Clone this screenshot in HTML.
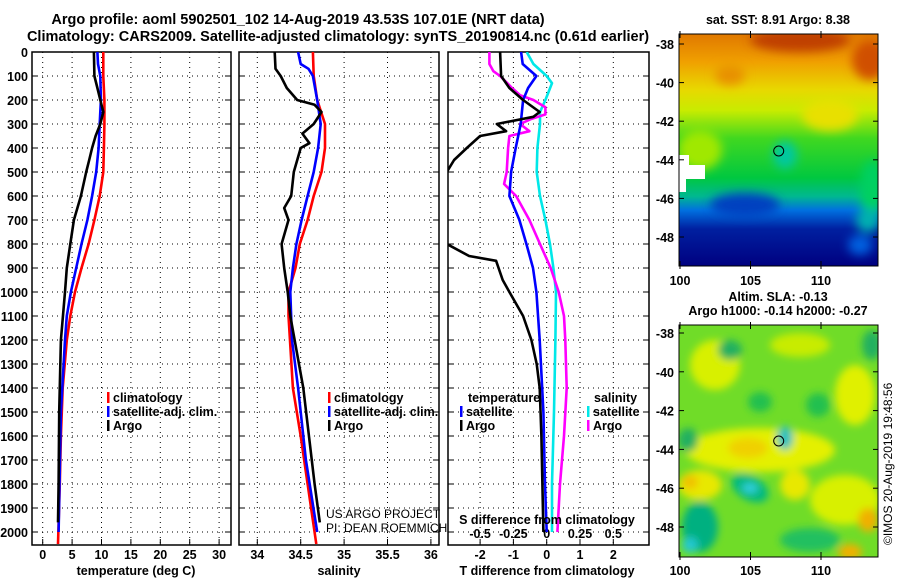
<!DOCTYPE html>
<html><head><meta charset="utf-8"><style>
html,body{margin:0;padding:0;background:#fff;}
svg{display:block;font-family:"Liberation Sans",sans-serif;}
.b{font-weight:bold;font-size:14.5px;}
.t{font-weight:bold;font-size:12.5px;}
</style></head><body>
<svg id="c" width="900" height="580" viewBox="0 0 900 580">
<defs>
<filter id="bl" filterUnits="userSpaceOnUse" x="600" y="0" width="300" height="580"><feGaussianBlur stdDeviation="5"/></filter>
<filter id="bl2" filterUnits="userSpaceOnUse" x="600" y="280" width="300" height="300"><feGaussianBlur stdDeviation="4"/></filter>
<clipPath id="cm1"><rect x="679" y="34" width="199" height="232"/></clipPath>
<clipPath id="cm2"><rect x="679" y="325" width="199" height="232"/></clipPath>
<clipPath id="cp1"><rect x="32" y="52" width="199" height="493"/></clipPath>
<clipPath id="cp2"><rect x="239" y="52" width="200" height="493"/></clipPath>
<clipPath id="cp3"><rect x="448" y="52" width="201" height="493"/></clipPath>
<linearGradient id="sstg" x1="0" y1="0" x2="0" y2="1">
<stop offset="0" stop-color="#e07800"/><stop offset="0.12" stop-color="#f0a000"/>
<stop offset="0.24" stop-color="#e8d800"/><stop offset="0.33" stop-color="#c8ec00"/>
<stop offset="0.45" stop-color="#40d820"/><stop offset="0.62" stop-color="#00c840"/>
<stop offset="0.7" stop-color="#00b890"/><stop offset="0.76" stop-color="#0070e0"/>
<stop offset="0.84" stop-color="#0020a0"/><stop offset="1" stop-color="#000080"/>
</linearGradient>
</defs>
<rect width="900" height="580" fill="#fff"/>
<text class="b" x="298" y="24" text-anchor="middle">Argo profile: aoml 5902501_102 14-Aug-2019 43.53S 107.01E (NRT data)</text>
<text class="b" x="338" y="41" text-anchor="middle">Climatology: CARS2009. Satellite-adjusted climatology: synTS_20190814.nc (0.61d earlier)</text>

<!-- SST map -->
<g clip-path="url(#cm1)">
<rect x="679" y="34" width="199" height="232" fill="url(#sstg)"/>
<g filter="url(#bl)">
<ellipse cx="800" cy="40" rx="50" ry="12" fill="#c04000"/>
<ellipse cx="870" cy="60" rx="18" ry="20" fill="#d05000"/>
<ellipse cx="730" cy="75" rx="15" ry="10" fill="#e89000"/>
<ellipse cx="830" cy="115" rx="28" ry="16" fill="#e8e000"/>
<ellipse cx="700" cy="150" rx="22" ry="20" fill="#a0e800"/>
<ellipse cx="785" cy="155" rx="12" ry="14" fill="#00c8a0"/>
<ellipse cx="745" cy="205" rx="35" ry="12" fill="#0040c0"/>
<ellipse cx="872" cy="190" rx="12" ry="30" fill="#00d060"/>
<ellipse cx="868" cy="220" rx="12" ry="12" fill="#00b0b0"/>
<ellipse cx="860" cy="245" rx="12" ry="10" fill="#0060e0"/>
</g>
<rect x="679" y="155" width="10" height="12" fill="#fff"/>
<rect x="679" y="165" width="26" height="14" fill="#fff"/>
<rect x="679" y="178" width="7" height="14" fill="#fff"/>
</g>
<rect x="679" y="34" width="199" height="232" fill="none" stroke="#000" stroke-width="1"/>
<circle cx="778.7" cy="151" r="5" fill="none" stroke="#000"/>
<text class="t" x="778" y="24" text-anchor="middle">sat. SST: 8.91 Argo: 8.38</text>

<!-- SLA map -->
<g clip-path="url(#cm2)">
<rect x="679" y="325" width="199" height="232" fill="#70dc28"/>
<g filter="url(#bl2)">
<ellipse cx="715" cy="365" rx="25" ry="25" fill="#d8f000"/>
<ellipse cx="800" cy="345" rx="30" ry="12" fill="#c8ec00"/>
<ellipse cx="855" cy="395" rx="20" ry="30" fill="#e0f000"/>
<ellipse cx="760" cy="450" rx="75" ry="22" fill="#e4f000"/>
<ellipse cx="748" cy="448" rx="20" ry="10" fill="#f0d000"/>
<ellipse cx="700" cy="485" rx="22" ry="15" fill="#e8e800"/>
<ellipse cx="690" cy="482" rx="8" ry="7" fill="#f0c000"/>
<ellipse cx="795" cy="485" rx="15" ry="15" fill="#e8e800"/>
<ellipse cx="845" cy="500" rx="35" ry="25" fill="#d8f000"/>
<ellipse cx="868" cy="520" rx="10" ry="12" fill="#f0b000"/>
<ellipse cx="850" cy="552" rx="12" ry="8" fill="#f0b000"/>
<ellipse cx="750" cy="488" rx="20" ry="12" fill="#00b880" transform="rotate(30 750 488)"/>
<ellipse cx="750" cy="488" rx="8" ry="5" fill="#30d0e0"/>
<ellipse cx="785" cy="438" rx="8" ry="12" fill="#20c0c0"/>
<ellipse cx="700" cy="527" rx="18" ry="25" fill="#00b080"/>
<ellipse cx="690" cy="545" rx="8" ry="8" fill="#20c8d0"/>
<ellipse cx="760" cy="402" rx="12" ry="10" fill="#20c050"/>
<ellipse cx="818" cy="405" rx="12" ry="12" fill="#20c050"/>
<ellipse cx="810" cy="540" rx="30" ry="12" fill="#20c060"/>
<ellipse cx="688" cy="440" rx="10" ry="12" fill="#20b060"/>
<ellipse cx="730" cy="350" rx="12" ry="10" fill="#20b060"/>
<ellipse cx="872" cy="345" rx="10" ry="15" fill="#20b060"/>
</g>
</g>
<rect x="679" y="325" width="199" height="232" fill="none" stroke="#000" stroke-width="1"/>
<circle cx="778.7" cy="441" r="5" fill="none" stroke="#000"/>
<text class="t" x="778" y="301" text-anchor="middle">Altim. SLA: -0.13</text>
<text class="t" x="778" y="315" text-anchor="middle">Argo h1000: -0.14 h2000: -0.27</text>
<text x="892" y="545" font-size="12" transform="rotate(-90 892 545)">©IMOS 20-Aug-2019 19:48:56</text>

<g id="plots"></g>
</svg>
<script>
// ---- data ----
const depthTicks = [0,100,200,300,400,500,600,700,800,900,1000,1100,1200,1300,1400,1500,1600,1700,1800,1900,2000];
const tempTicks = [0,5,10,15,20,25,30];
const salTicks = [34,34.5,35,35.5,36];
const salTickLabels = ["34","34.5","35","35.5","36"];
const tdiffTicks = [-2,-1,0,1,2];
const sdiffTicks = [-0.5,-0.25,0,0.25,0.5];
const sdiffTickLabels = ["-0.5","-0.25","0","0.25","0.5"];

const argoTDepth = [0,100,150,200,250,300,350,400,450,500,600,700,800,900,1000,1200,1500,1800,1960];
const argoT = [8.7,8.8,9.3,9.8,10.3,9.8,9.0,8.4,7.9,7.4,6.5,5.3,4.7,4.1,3.8,3.1,2.8,2.7,2.6];
const climTDepth = [0,100,200,300,400,500,600,700,800,900,1000,1100,1200,1400,1600,1800,2050];
const climT = [10.3,10.3,10.5,10.5,10.4,10.3,9.7,8.8,7.8,6.6,5.5,4.7,4.1,3.4,3.1,2.9,2.6];
const satTDepth = [0,50,100,200,300,400,500,600,700,800,900,1000,1100,1200,1500,2000];
const satT = [9.3,9.4,9.8,9.9,9.7,9.5,9.1,8.4,7.6,6.6,5.7,4.8,4.1,3.8,3.1,2.7];

const argoSDepth = [0,70,100,150,200,220,250,300,340,380,400,500,600,650,700,800,900,1000,1100,1400,1800,1960];
const argoS = [34.2,34.21,34.27,34.34,34.46,34.66,34.74,34.65,34.52,34.6,34.5,34.42,34.39,34.31,34.36,34.28,34.31,34.35,34.38,34.53,34.66,34.72];
const climSDepth = [0,100,200,300,400,500,600,700,800,900,1000,1100,1400,1600,1800,2050];
const climS = [34.64,34.65,34.69,34.78,34.78,34.74,34.65,34.58,34.49,34.44,34.36,34.36,34.41,34.5,34.58,34.68];
const satSDepth = [0,50,70,100,200,300,400,500,600,700,800,900,1000,1200,1400,1700,2000];
const satS = [34.47,34.5,34.59,34.64,34.69,34.73,34.7,34.65,34.58,34.51,34.45,34.41,34.38,34.4,34.47,34.56,34.69];

const argoTdDepth = [0,100,150,200,250,270,300,330,350,400,450,500,550,800,850,870,950,1000,1100,1200,1300,1400,1600,2000];
const argoTd = [-1.4,-1.37,-1.12,-0.71,-0.21,-0.4,-1.5,-1.22,-2.0,-2.4,-2.78,-3.0,-3.2,-3.0,-2.33,-1.52,-1.32,-1.12,-0.71,-0.46,-0.3,-0.21,-0.16,-0.1];
const satTdDepth = [0,50,100,150,200,300,400,500,600,700,800,900,1000,1200,1500,1800,2000];
const satTd = [-0.77,-0.72,-0.31,-0.56,-0.71,-0.78,-0.93,-1.07,-1.12,-0.82,-0.61,-0.41,-0.31,-0.21,-0.1,-0.05,0];
const argoSdDepth = [0,50,80,100,150,180,200,230,260,280,300,330,350,400,500,550,600,700,800,900,1000,1100,1200,1400,1600,1800,2000];
const argoSd = [-0.43,-0.43,-0.4,-0.35,-0.26,-0.2,-0.1,-0.01,-0.01,-0.12,-0.2,-0.13,-0.28,-0.29,-0.3,-0.32,-0.23,-0.13,-0.05,0.03,0.09,0.13,0.14,0.15,0.13,0.1,0.08];
const satSdDepth = [0,50,100,130,200,250,300,400,500,600,700,800,900,1000,1200,1500,1800,2000];
const satSd = [-0.15,-0.1,0,0.04,-0.01,-0.05,-0.05,-0.07,-0.075,-0.05,-0.01,0.025,0.05,0.07,0.065,0.055,0.04,0.04];

// ---- drawing ----
const NS = "http://www.w3.org/2000/svg";
const root = document.getElementById('plots');
function el(tag, attrs, parent, text){
  const e = document.createElementNS(NS, tag);
  for (const k in attrs) e.setAttribute(k, attrs[k]);
  if (text !== undefined) e.textContent = text;
  (parent||root).appendChild(e);
  return e;
}
const Y0 = 52, Y1 = 545;
const yScale = d => Y0 + d * 0.24;
const xTemp = t => 42.7 + t * 5.88;
const xSal = s => 257.3 + (s - 34) * 86.8;
const xTd = t => 546.7 + t * 33.3;
const xSd = s => 546.7 + s * 133.2;

const panels = [
  {x0:32, x1:231, name:'temperature-panel'},
  {x0:239, x1:439, name:'salinity-panel'},
  {x0:448, x1:649, name:'difference-panel'}
];
panels.forEach((p, i) => {
  const g = el('g', {});
  
  
  depthTicks.forEach(d => {
    const y = yScale(d);
    const ln = el('line', {x1:p.x0, x2:p.x1, y1:y, y2:y, stroke:'#000', 'stroke-width':1, 'stroke-dasharray':'1,4'}, g);
    
    
    el('line', {x1:p.x0, x2:p.x0+6, y1:y, y2:y, stroke:'#000'}, g);
    el('line', {x1:p.x1-6, x2:p.x1, y1:y, y2:y, stroke:'#000'}, g);
    if (i === 0) {
      const tx = el('text', {x:28, y:y+5, 'text-anchor':'end', class:'t'}, g, String(d));
      
      
    }
  });
  el('rect', {x:p.x0, y:Y0, width:p.x1-p.x0, height:Y1-Y0, fill:'none', stroke:'#000', 'stroke-width':1.5}, g);
});
function vgrid(vals, fx, labels, gname, ylab){
  const g = el('g', {});
  
  
  vals.forEach((v, k) => {
    const x = fx(v);
    el('line', {x1:x, x2:x, y1:Y0, y2:Y1, stroke:'#000', 'stroke-width':1, 'stroke-dasharray':'1,4'}, g);
    el('line', {x1:x, x2:x, y1:Y1-6, y2:Y1, stroke:'#000'}, g);
    const t = el('text', {x:x, y:ylab, 'text-anchor':'middle', class:'t'}, g, labels ? labels[k] : String(v));
    
    
  });
}
vgrid(tempTicks, xTemp, null, 'temperature-axis', 559);
vgrid(salTicks, xSal, salTickLabels, 'salinity-axis', 559);
vgrid(tdiffTicks, xTd, null, 't-diff-axis', 559);
sdiffTicks.forEach((v, k) => {
  const t = el('text', {x:xSd(v), y:538, 'text-anchor':'middle', class:'t'}, root, sdiffTickLabels[k]);
  
  
});

function series(depths, vals, fx, color, clip, name, w){
  const pts = depths.map((d, k) => fx(vals[k]).toFixed(1) + ',' + yScale(d).toFixed(1)).join(' ');
  const pl = el('polyline', {points:pts, fill:'none', stroke:color, 'stroke-width':w||2.6, 'clip-path':'url(#'+clip+')', 'stroke-linejoin':'round'});
  
  
}
series(climTDepth, climT, xTemp, '#f00', 'cp1', 'clim-temperature-line');
series(satTDepth, satT, xTemp, '#00f', 'cp1', 'sat-temperature-line');
series(argoTDepth, argoT, xTemp, '#000', 'cp1', 'argo-temperature-line');
series(climSDepth, climS, xSal, '#f00', 'cp2', 'clim-salinity-line');
series(satSDepth, satS, xSal, '#00f', 'cp2', 'sat-salinity-line');
series(argoSDepth, argoS, xSal, '#000', 'cp2', 'argo-salinity-line');
series(satSdDepth, satSd, xSd, '#00e8e8', 'cp3', 'sat-salinity-diff-line');
series(argoSdDepth, argoSd, xSd, '#f0f', 'cp3', 'argo-salinity-diff-line');
series(satTdDepth, satTd, xTd, '#00f', 'cp3', 'sat-temperature-diff-line');
series(argoTdDepth, argoTd, xTd, '#000', 'cp3', 'argo-temperature-diff-line');

function legend(x, y, items, name){
  const g = el('g', {});
  
  
  items.forEach((it, k) => {
    const yy = y + k*14;
    if (it[1]) el('rect', {x:x, y:yy-10, width:2.5, height:11, fill:it[1]}, g);
    const t = el('text', {x:x + (it[1] ? 6 : 0), y:yy, class:'t'}, g, it[0]);
    
    
  });
}
legend(107, 402, [['climatology','#f00'],['satellite-adj. clim.','#00f'],['Argo','#000']], 'temperature-legend');
legend(328, 402, [['climatology','#f00'],['satellite-adj. clim.','#00f'],['Argo','#000']], 'salinity-legend');
legend(468, 402, [['temperature',null]], 'tdiff-legend-title');
legend(460, 416, [['satellite','#00f'],['Argo','#000']], 'tdiff-legend');
legend(594, 402, [['salinity',null]], 'sdiff-legend-title');
legend(587, 416, [['satellite','#00e8e8'],['Argo','#f0f']], 'sdiff-legend');

const tt = [['temperature (deg C)', 136], ['salinity', 339], ['T difference from climatology', 547]];
tt.forEach(a => {
  const t = el('text', {x:a[1], y:575, 'text-anchor':'middle', class:'t'}, root, a[0]);
  
  
});
const sd = el('text', {x:547, y:524, 'text-anchor':'middle', class:'t'}, root, 'S difference from climatology');


const c1 = el('text', {x:326, y:518, 'font-size':12}, root, 'US ARGO PROJECT');


const c2 = el('text', {x:326, y:532, 'font-size':12}, root, 'PI: DEAN ROEMMICH');



const mapLats = [-38,-40,-42,-44,-46,-48];
const mapLons = [100,105,110];
function mapAxes(top, bottom, lat38, name, labY){
  const g = el('g', {});
  
  
  const latPx = (bottom === 266) ? 19.3 : 19.4;
  mapLats.forEach(l => {
    const y = lat38 + (-38 - l) * latPx;
    el('line', {x1:679, x2:684, y1:y, y2:y, stroke:'#000'}, g);
    el('line', {x1:873, x2:878, y1:y, y2:y, stroke:'#000'}, g);
    const t = el('text', {x:674, y:y+5, 'text-anchor':'end', class:'t'}, g, String(l));
    
    
  });
  mapLons.forEach(l => {
    const x = 680 + (l - 100) * 14.1;
    el('line', {x1:x, x2:x, y1:bottom-5, y2:bottom+3, stroke:'#000'}, g);
    el('line', {x1:x, x2:x, y1:top-3, y2:top+4, stroke:'#000'}, g);
    const t = el('text', {x:x, y:labY, 'text-anchor':'middle', class:'t'}, g, String(l));
    
    
  });
}
mapAxes(34, 266, 44, 'sst-map-axes', 285);
mapAxes(325, 557, 333, 'sla-map-axes', 575);
</script>
</body></html>
